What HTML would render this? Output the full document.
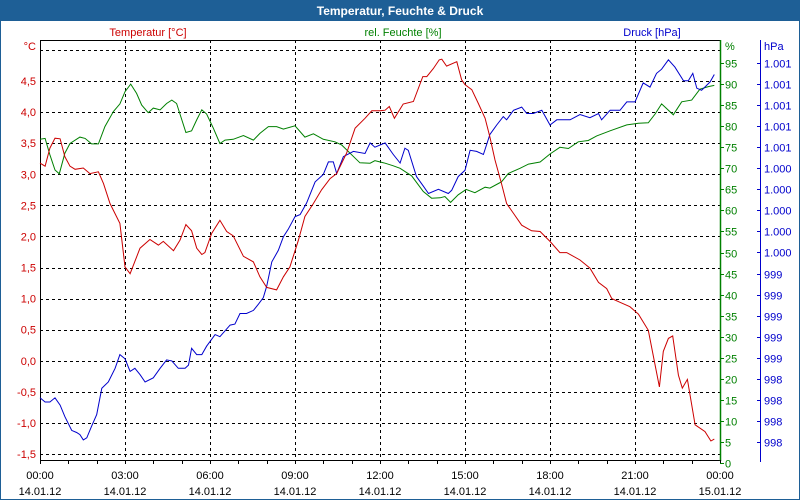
<!DOCTYPE html>
<html><head><meta charset="utf-8"><style>
html,body{margin:0;padding:0;background:#fff}
#wrap{position:relative;width:800px;height:500px;overflow:hidden;font-family:"Liberation Sans",sans-serif}
svg text{font-family:"Liberation Sans",sans-serif;font-size:11px}
</style></head><body>
<div id="wrap">
<svg id="chart" width="800" height="500">
<rect x="0.5" y="0.5" width="799" height="499" fill="#fff" stroke="#1e5f96"/>
<rect x="0" y="0" width="800" height="21" fill="#1e5f96"/>
<text x="400" y="15" fill="#fff" font-weight="bold" text-anchor="middle" style="font-size:12px">Temperatur, Feuchte &amp; Druck</text>
<text x="148" y="36" fill="#cc0000" text-anchor="middle">Temperatur [°C]</text>
<text x="403" y="36" fill="#008000" text-anchor="middle">rel. Feuchte [%]</text>
<text x="652" y="36" fill="#0000cc" text-anchor="middle">Druck [hPa]</text>
<text x="36" y="50" fill="#cc0000" text-anchor="end">°C</text>
<text x="725" y="50" fill="#008000">%</text>
<text x="764" y="50" fill="#0000cc">hPa</text>
<g id="grid"></g><g id="axes"></g><g id="series"></g>
</svg></div>
<script>
const tempHours=[0,0.18,0.35,0.53,0.71,0.88,1.06,1.24,1.53,1.76,2.06,2.24,2.47,2.82,3.0,3.18,3.53,3.88,4.18,4.35,4.71,4.94,5.15,5.35,5.53,5.71,5.82,6.06,6.35,6.59,6.82,7.18,7.53,7.76,8.0,8.35,8.59,8.82,9.12,9.35,9.65,9.94,10.24,10.47,10.82,11.12,11.47,11.71,12.0,12.18,12.33,12.51,12.82,13.18,13.51,13.65,13.88,14.09,14.18,14.35,14.71,14.88,15.0,15.24,15.47,15.71,15.88,16.06,16.29,16.47,16.71,17.0,17.35,17.65,18.0,18.35,18.59,19.06,19.41,19.71,20.0,20.18,20.47,20.82,21.12,21.47,21.65,21.86,22.0,22.18,22.33,22.53,22.67,22.85,23.12,23.47,23.68,23.8];
const tempValues=[3.18,3.13,3.42,3.58,3.57,3.28,3.13,3.08,3.10,3.01,3.04,2.85,2.53,2.21,1.51,1.40,1.81,1.95,1.86,1.92,1.77,1.94,2.19,2.09,1.81,1.71,1.74,2.05,2.26,2.08,2.01,1.68,1.59,1.35,1.18,1.14,1.35,1.51,1.94,2.32,2.53,2.75,2.93,3.01,3.34,3.74,3.90,4.02,4.02,4.03,4.09,3.90,4.13,4.17,4.57,4.57,4.70,4.84,4.85,4.74,4.81,4.52,4.44,4.36,4.14,3.90,3.60,3.23,2.85,2.53,2.37,2.18,2.09,2.08,1.92,1.74,1.74,1.62,1.49,1.26,1.16,1.00,0.94,0.87,0.75,0.49,0.07,-0.42,0.15,0.36,0.40,-0.23,-0.44,-0.30,-1.03,-1.14,-1.29,-1.26];
const humHours=[0,0.18,0.35,0.53,0.68,0.88,1.06,1.41,1.59,1.82,2.06,2.29,2.59,2.82,3.0,3.2,3.41,3.59,3.82,4.0,4.24,4.47,4.65,4.82,5.15,5.35,5.53,5.71,5.88,6.12,6.35,6.53,6.82,7.18,7.53,7.76,8.06,8.35,8.59,9.0,9.35,9.65,10.0,10.41,10.65,11.0,11.29,11.65,11.82,12.18,12.47,12.71,13.12,13.53,13.82,14.12,14.29,14.49,14.76,15.04,15.35,15.71,15.88,16.18,16.29,16.53,16.94,17.24,17.65,18.0,18.35,18.65,19.0,19.35,19.65,20.12,20.71,21.12,21.47,21.71,21.94,22.35,22.65,23.0,23.29,23.59,23.8];
const humValues=[76.9,77.1,73.2,69.6,68.7,73.6,75.9,77.4,77.1,75.8,75.8,79.9,83.5,85.3,88.2,90.0,87.8,85.0,83.2,84.3,83.9,85.4,86.2,85.4,78.5,78.9,81.5,83.9,82.9,79.5,75.9,76.7,76.9,77.8,76.7,78.3,79.9,79.9,79.3,80.1,77.4,78.2,76.9,76.3,75.5,73.2,71.3,71.2,71.8,71.2,70.6,70.0,68.2,64.5,62.9,63.0,63.3,61.9,63.7,65.0,64.2,65.5,65.3,66.4,66.8,68.8,70.0,71.0,71.5,73.4,75.0,74.7,76.3,76.6,77.7,78.9,80.3,80.7,80.8,82.9,85.3,82.7,85.8,86.2,88.8,89.4,89.7];
const presHours=[0,0.18,0.35,0.53,0.71,0.88,1.12,1.29,1.41,1.53,1.65,1.82,2.0,2.18,2.41,2.65,2.82,3.0,3.18,3.35,3.53,3.71,4.0,4.24,4.47,4.65,4.88,5.12,5.24,5.35,5.53,5.71,5.88,6.18,6.35,6.71,6.88,7.06,7.29,7.53,7.71,7.88,8.0,8.18,8.41,8.59,8.76,9.0,9.18,9.41,9.71,10.0,10.18,10.35,10.47,10.71,11.06,11.47,11.65,11.82,12.18,12.47,12.71,12.88,13.0,13.29,13.53,13.71,14.06,14.41,14.53,14.76,15.0,15.18,15.41,15.65,15.88,16.12,16.35,16.47,16.71,17.0,17.18,17.41,17.71,18.0,18.24,18.71,19.06,19.41,19.71,19.82,20.12,20.47,20.71,21.0,21.29,21.53,21.76,21.94,22.18,22.41,22.71,22.88,23.04,23.18,23.35,23.65,23.8];
const presValues=[998.17,998.13,998.13,998.17,998.10,997.99,997.86,997.84,997.82,997.77,997.79,997.90,998.01,998.26,998.32,998.45,998.58,998.54,998.42,998.45,998.39,998.32,998.36,998.45,998.53,998.52,998.45,998.45,998.48,998.64,998.58,998.58,998.66,998.77,998.75,998.86,998.87,998.97,998.97,999.00,999.06,999.12,999.23,999.46,999.57,999.70,999.77,999.89,999.91,1000.02,1000.22,1000.29,1000.41,1000.41,1000.30,1000.46,1000.51,1000.49,1000.59,1000.55,1000.59,1000.48,1000.40,1000.54,1000.52,1000.27,1000.18,1000.11,1000.15,1000.11,1000.14,1000.27,1000.33,1000.52,1000.51,1000.48,1000.67,1000.76,1000.84,1000.81,1000.90,1000.93,1000.87,1000.87,1000.90,1000.76,1000.81,1000.81,1000.86,1000.83,1000.87,1000.81,1000.90,1000.90,1000.98,1000.98,1001.16,1001.12,1001.25,1001.29,1001.38,1001.31,1001.18,1001.18,1001.25,1001.11,1001.09,1001.17,1001.24];
const tempTicks=[4.5,4.0,3.5,3.0,2.5,2.0,1.5,1.0,0.5,0.0,-0.5,-1.0,-1.5];
const humTicks=[95,90,85,80,75,70,65,60,55,50,45,40,35,30,25,20,15,10,5,0];
const presTicks=[1001.35,1001.15,1000.95,1000.75,1000.55,1000.35,1000.15,999.95,999.75,999.55,999.35,999.15,998.95,998.75,998.55,998.35,998.15,997.95,997.75];
const timeLabels=["00:00","03:00","06:00","09:00","12:00","15:00","18:00","21:00","00:00"];
const dateLabels=["14.01.12","14.01.12","14.01.12","14.01.12","14.01.12","14.01.12","14.01.12","14.01.12","15.01.12"];

const X0=40,X1=720,Y0=40,Y1=460;
const xS=h=>X0+h*(X1-X0)/24;
const yT=v=>81+(4.5-v)*62.17;
const yH=v=>463-v*4.21;
const yP=v=>442-(v-997.75)*105.3;
const NS="http://www.w3.org/2000/svg";
function mk(parent,tag,attrs,txt){const e=document.createElementNS(NS,tag);for(const k in attrs)e.setAttribute(k,attrs[k]);if(txt!==undefined)e.textContent=txt;parent.appendChild(e);return e;}
const grid=document.getElementById('grid'),axes=document.getElementById('axes'),series=document.getElementById('series');
// horizontal gridlines
for(let v=5.0;v>=-1.51;v-=0.5){const y=Math.round(yT(v))+0.5;const l=mk(grid,'line',{x1:X0,x2:X1,y1:y,y2:y,stroke:'#000','stroke-dasharray':'3,3'});

}
for(let i=1;i<8;i++){const x=Math.round(xS(i*3))+0.5;const l=mk(grid,'line',{x1:x,x2:x,y1:Y0,y2:Y1,stroke:'#000','stroke-dasharray':'3,3'});

}
// frame
const fr=mk(axes,'path',{d:`M${X1+0.5},${Y0+0.5}H${X0+0.5}V${Y1+0.5}H${X1+0.5}`,fill:'none',stroke:'#000'});


const ga=mk(axes,'line',{x1:X1+0.5,x2:X1+0.5,y1:Y0,y2:Y1+1,stroke:'#008000','stroke-width':1.5});


const ba=mk(axes,'line',{x1:760.5,x2:760.5,y1:Y0,y2:Y1+2,stroke:'#0000cc'});


// x ticks
for(let h=0;h<=24;h++){const x=Math.round(xS(h))+0.5;mk(axes,'line',{x1:x,x2:x,y1:Y1,y2:Y1+4,stroke:'#000'});}
timeLabels.forEach((t,i)=>{const x=xS(i*3);
const a=mk(axes,'text',{x:x,y:479,'text-anchor':'middle',fill:'#000'},t);


const b=mk(axes,'text',{x:x,y:495,'text-anchor':'middle',fill:'#000'},dateLabels[i]);

});
tempTicks.forEach(v=>{const t=mk(axes,'text',{x:36,y:yT(v)+4,'text-anchor':'end',fill:'#cc0000'},v.toFixed(1).replace('.',','));

});
humTicks.forEach(v=>{const y=Math.round(yH(v))+0.5;mk(axes,'line',{x1:X1,x2:X1+4,y1:y,y2:y,stroke:'#008000'});
const t=mk(axes,'text',{x:725,y:y+4,fill:'#008000'},String(v));

});
presTicks.forEach(v=>{const y=Math.round(yP(v))+0.5;mk(axes,'line',{x1:757,x2:760,y1:y,y2:y,stroke:'#0000cc'});
const r=Math.round(v);const s=r>=1000?'1.'+String(r-1000).padStart(3,'0'):String(r);
const t=mk(axes,'text',{x:764,y:y+4,fill:'#0000cc'},s);

});
function line(hs,vs,ys,col,name){const d=hs.map((h,i)=>(i?'L':'M')+xS(h).toFixed(1)+','+ys(vs[i]).toFixed(1)).join('');
const p=mk(series,'path',{d:d,fill:'none',stroke:col,'stroke-width':1});

}
line(humHours,humValues,yH,'#008000','humidity-line');
line(presHours,presValues,yP,'#0000cc','pressure-line');
line(tempHours,tempValues,yT,'#cc0000','temperature-line');
</script>
</body></html>
